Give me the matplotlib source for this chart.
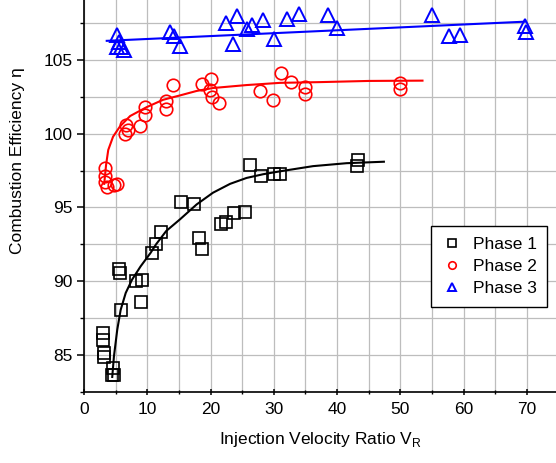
import numpy as np
import matplotlib
matplotlib.use("Agg")
import matplotlib.pyplot as plt
from matplotlib.ticker import MultipleLocator

plt.rcParams['font.family'] = ['Liberation Sans', 'DejaVu Sans']

# ---- data ----
p1_x = [3.05, 3.05, 3.1, 3.2, 4.6, 4.5, 4.75, 5.5, 5.7, 5.9, 8.2, 9.2, 9.0, 10.8, 11.4, 12.2,
        15.4, 17.4, 18.2, 18.6, 21.7, 22.5, 23.7, 25.4, 26.2, 28.0, 30.0, 31.0, 43.3, 43.1]
p1_y = [86.5, 86.0, 85.15, 84.85, 84.1, 83.65, 83.6, 90.8, 90.55, 88.05, 90.0, 90.05, 88.6, 91.9, 92.5, 93.3,
        95.4, 95.2, 92.9, 92.2, 93.9, 94.0, 94.6, 94.7, 97.9, 97.1, 97.3, 97.3, 98.2, 97.8]

p2_x = [3.3, 3.3, 3.4, 3.7, 4.7, 5.2, 6.5, 6.7, 7.0, 8.85, 9.6, 9.6, 12.95, 12.95, 14.1, 18.6,
        20.0, 19.9, 20.3, 21.4, 27.9, 29.9, 31.2, 32.7, 34.9, 34.9, 49.9, 49.9]
p2_y = [97.7, 97.1, 96.7, 96.4, 96.5, 96.6, 100.0, 100.6, 100.25, 100.5, 101.8, 101.3, 102.2, 101.65, 103.3, 103.4,
        103.7, 102.95, 102.5, 102.1, 102.9, 102.3, 104.15, 103.5, 103.15, 102.7, 103.45, 103.0]

p3_x = [5.3, 5.2, 5.8, 6.4, 5.5, 13.6, 14.3, 15.1, 22.5, 24.2, 23.6, 25.8, 26.6, 28.3, 30.0, 32.1,
        34.0, 38.5, 40.0, 55.0, 57.7, 59.4, 69.7, 69.9]
p3_y = [106.7, 105.9, 105.9, 105.7, 106.2, 106.9, 106.6, 105.95, 107.5, 108.0, 106.1, 107.1, 107.4, 107.7, 106.4, 107.8,
        108.1, 108.05, 107.2, 108.05, 106.6, 106.7, 107.3, 106.9]

# fit curves
fit1_x = [4.47, 4.74, 5.26, 5.8, 6.6, 7.6, 8.95, 10.5, 11.4, 13.0, 15.2, 17.8, 20.4, 23.1, 25.7, 28.3, 31.0, 36.2, 41.5, 47.4]
fit1_y = [83.5, 84.9, 86.7, 88.05, 89.2, 90.1, 91.0, 91.9, 92.5, 93.4, 94.2, 95.2, 96.0, 96.6, 97.0, 97.25, 97.45, 97.8, 98.0, 98.1]
fit2_x = [3.2, 3.5, 3.84, 4.6, 5.7, 7.3, 9.9, 12.5, 15.2, 17.8, 20.4, 25.7, 31.0, 37.3, 45.0, 53.5]
fit2_y = [96.6, 97.9, 98.9, 99.8, 100.5, 101.2, 101.8, 102.3, 102.6, 102.9, 103.1, 103.3, 103.45, 103.5, 103.58, 103.6]
fit3_x = [3.6, 69.7]
fit3_y = [106.3, 107.6]

labels = ['Phase 1', 'Phase 2', 'Phase 3']
colors = ['black', 'red', 'blue']

fig = plt.figure(figsize=(5.56, 4.63), dpi=100)
ax = fig.add_axes([0.151, 0.154, 0.849, 0.846])

ax.grid(True, which='both', color='#bdbdbd', linewidth=0.9)
ax.set_axisbelow(True)

ax.plot(fit1_x, fit1_y, '-', color=colors[0], lw=1.5, zorder=2)
ax.plot(fit2_x, fit2_y, '-', color=colors[1], lw=1.5, zorder=2)
ax.plot(fit3_x, fit3_y, '-', color=colors[2], lw=1.5, zorder=2)

ms = 9
ax.plot(p1_x, p1_y, 's', ms=ms, mfc='none', mec=colors[0], mew=1.2, ls='none', label=labels[0], zorder=3)
ax.plot(p2_x, p2_y, 'o', ms=ms, mfc='none', mec=colors[1], mew=1.2, ls='none', label=labels[1], zorder=3)
ax.plot(p3_x, p3_y, '^', ms=ms + 0.5, mfc='none', mec=colors[2], mew=1.4, ls='none', label=labels[2], zorder=3)

ax.set_xlim(0, 74.6)
ax.set_ylim(82.5, 109.07)
ax.xaxis.set_major_locator(MultipleLocator(10))
ax.xaxis.set_minor_locator(MultipleLocator(5))
ax.yaxis.set_major_locator(MultipleLocator(5))
ax.yaxis.set_minor_locator(MultipleLocator(2.5))

for s in ['top', 'right']:
    ax.spines[s].set_visible(False)
for s in ['left', 'bottom']:
    ax.spines[s].set_linewidth(1.2)

ax.tick_params(axis='both', which='major', direction='out', length=5, width=1.1, labelsize=12.5, pad=3)
ax.tick_params(axis='both', which='minor', direction='out', length=3, width=1.0)
ax.tick_params(axis='x', which='both', direction='inout')
ax.tick_params(axis='x', which='major', pad=5)

ax.set_xlabel(r'Injection Velocity Ratio V$_\mathregular{R}$', fontsize=12.5, labelpad=9)
ax.set_ylabel('Combustion Efficiency η', fontsize=12.5)
ax.yaxis.set_label_coords(-0.125, 0.59)

leg = ax.legend(loc='upper left', bbox_to_anchor=(0.735, 0.423), borderaxespad=0,
                fontsize=12.5, markerscale=0.6, fancybox=False, edgecolor='black',
                framealpha=1, handlelength=1.2, handletextpad=0.6, labelspacing=0.42,
                borderpad=0.6)
leg.get_frame().set_linewidth(1.0)

fig.savefig('out.png', dpi=100)
